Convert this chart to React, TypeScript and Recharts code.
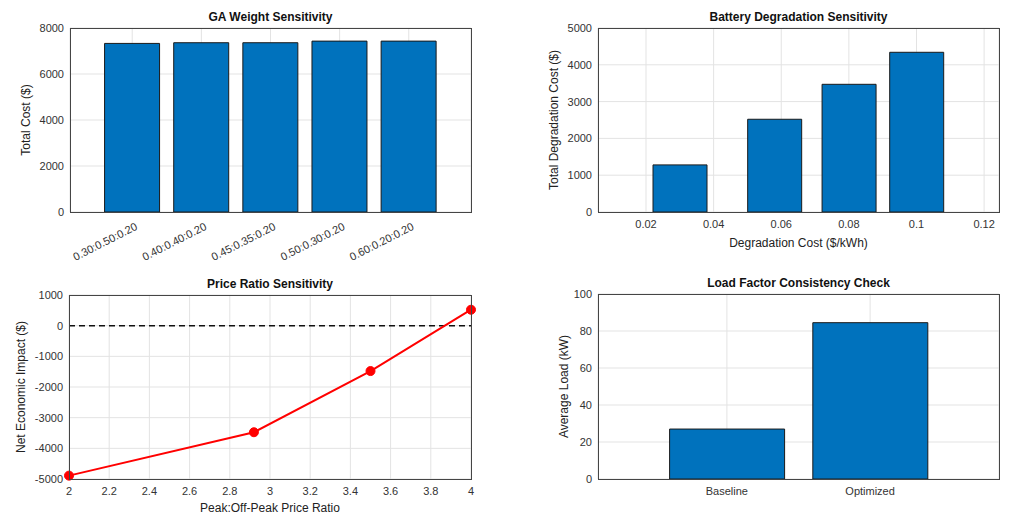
import React from "react"
import {
  Bar, BarChart, CartesianGrid, Label, Line, LineChart, ReferenceLine, XAxis, YAxis,
} from "recharts"

// GA weight sensitivity
const gaWeights = ["0.30:0.50:0.20", "0.40:0.40:0.20", "0.45:0.35:0.20", "0.50:0.30:0.20", "0.60:0.20:0.20"]
const gaTotalCost = [7330, 7360, 7360, 7430, 7430]
const gaTicks = [0, 2000, 4000, 6000, 8000]

// battery degradation sensitivity
const degRate = [0.03, 0.058, 0.08, 0.1]
const degTotalCost = [1280, 2520, 3470, 4340]
const degXTicks = [0.02, 0.04, 0.06, 0.08, 0.1, 0.12]
const degYTicks = [0, 1000, 2000, 3000, 4000, 5000]

// price ratio sensitivity
const priceRatio = [2, 2.92, 3.5, 4]
const netImpact = [-4890, -3475, -1480, 520]
const ratioTicks = [2, 2.2, 2.4, 2.6, 2.8, 3, 3.2, 3.4, 3.6, 3.8, 4]
const impactTicks = [-5000, -4000, -3000, -2000, -1000, 0, 1000]

// load factor check
const loadCases = ["Baseline", "Optimized"]
const avgLoad = [27, 84.5]
const loadTicks = [0, 20, 40, 60, 80, 100]

const gaData = gaWeights.map((w, i) => ({ w, cost: gaTotalCost[i] }))
const degData = degRate.map((r, i) => ({ r, cost: degTotalCost[i] }))
const priceData = priceRatio.map((p, i) => ({ p, v: netImpact[i] }))
const loadData = loadCases.map((c, i) => ({ c, v: avgLoad[i] }))

const FONT = '"Liberation Sans", Arial, sans-serif'
const BLUE = "#0072BD"
const GRID = "#e3e3e3"
const TXT = "#333"
const YW = 45

type Box = { left: number; top: number; w: number; h: number }
type Plot = { left: number; top: number; width: number; height: number }

const marginFor = (box: Box, plot: Plot, xh: number) => ({
  top: plot.top,
  left: plot.left - YW,
  right: box.w - plot.left - plot.width,
  bottom: box.h - plot.top - plot.height - xh,
})

const Title = ({ box, plot, text }: { box: Box; plot: Plot; text: string }) => (
  <div style={{
    position: "absolute", left: box.left + plot.left, top: box.top + plot.top - 18, width: plot.width,
    textAlign: "center", fontSize: 12, lineHeight: "14px", fontWeight: "bold", color: "#111", fontFamily: FONT,
  }}>{text}</div>
)

const Frame = ({ box, plot }: { box: Box; plot: Plot }) => (
  <div style={{
    position: "absolute", left: box.left + plot.left, top: box.top + plot.top, width: plot.width + 1,
    height: plot.height + 1, border: "1px solid #454545", boxSizing: "border-box", pointerEvents: "none",
  }} />
)

const RotTick = (props: any) => {
  const { x, y, payload } = props
  const ax = x + 6
  const ay = y + 9
  return (
    <text x={ax} y={ay} transform={`rotate(-27, ${ax}, ${ay})`} textAnchor="end" fontSize={11} fill={TXT} fontFamily={FONT}>
      {payload.value}
    </text>
  )
}

const tickStyle = { fill: TXT, fontSize: 11, fontFamily: FONT }
const labelStyle = { fill: "#222", fontSize: 12, fontFamily: FONT }

// top-left svg is taller so the slanted labels are not clipped
const b1: Box = { left: 0, top: 0, w: 500, h: 275 }
const p1: Plot = { left: 70, top: 28, width: 401, height: 184 }
const b2: Box = { left: 500, top: 0, w: 513, h: 260 }
const p2: Plot = { left: 98, top: 28, width: 401, height: 184 }
const b3: Box = { left: 0, top: 260, w: 500, h: 259 }
const p3: Plot = { left: 69, top: 35, width: 402, height: 184 }
const b4: Box = { left: 500, top: 260, w: 513, h: 259 }
const p4: Plot = { left: 98, top: 34, width: 401, height: 185 }

const at = (b: Box) => ({ position: "absolute" as const, left: b.left, top: b.top })

export default function App() {
  const band1 = p1.width / 5.8
  const band4 = p4.width / 2.8
  return (
    <div style={{ position: "absolute", left: 0, top: 0, width: 1013, height: 519, background: "#fff", fontFamily: FONT, overflow: "hidden" }}>
      <div style={at(b3)}>
        <LineChart width={b3.w} height={b3.h} data={priceData} margin={marginFor(b3, p3, 32)}>
          <CartesianGrid stroke={GRID} />
          <XAxis dataKey="p" type="number" domain={[2, 4]} ticks={ratioTicks} height={32}
            axisLine={false} tickLine={false} tick={tickStyle}>
            <Label value="Peak:Off-Peak Price Ratio" position="center" dy={13} style={labelStyle} />
          </XAxis>
          <YAxis width={YW} domain={[-5000, 1000]} ticks={impactTicks} axisLine={false} tickLine={false}
            tick={tickStyle} tickMargin={0}>
            <Label value="Net Economic Impact ($)" angle={-90} position="center" dx={-26} style={labelStyle} />
          </YAxis>
          <ReferenceLine y={0} stroke="#111" strokeWidth={1.5} strokeDasharray="6 4" />
          <Line dataKey="v" stroke="#ff0000" strokeWidth={2} isAnimationActive={false}
            dot={{ r: 4.5, fill: "#ff0000", stroke: "#ff0000", strokeWidth: 1 }} />
        </LineChart>
      </div>

      <div style={at(b4)}>
        <BarChart width={b4.w} height={b4.h} data={loadData} margin={marginFor(b4, p4, 32)} barCategoryGap="10%">
          <CartesianGrid stroke={GRID} />
          <XAxis dataKey="c" height={32} axisLine={false} tickLine={false} interval={0}
            padding={{ left: band4 * 0.4, right: band4 * 0.4 }} tick={tickStyle} />
          <YAxis width={YW} domain={[0, 100]} ticks={loadTicks} axisLine={false} tickLine={false}
            tick={tickStyle} tickMargin={0}>
            <Label value="Average Load (kW)" angle={-90} position="center" dx={-12} style={labelStyle} />
          </YAxis>
          <Bar dataKey="v" fill={BLUE} stroke="#1a1a1a" strokeWidth={1} isAnimationActive={false} />
        </BarChart>
      </div>

      <div style={at(b2)}>
        <BarChart width={b2.w} height={b2.h} data={degData} margin={marginFor(b2, p2, 40)}>
          <CartesianGrid stroke={GRID} />
          <XAxis dataKey="r" type="number" domain={[0.0058, 0.1244]} ticks={degXTicks} allowDataOverflow
            height={40} axisLine={false} tickLine={false} tick={tickStyle}>
            <Label value="Degradation Cost ($/kWh)" position="center" dy={11} style={labelStyle} />
          </XAxis>
          <YAxis width={YW} domain={[0, 5000]} ticks={degYTicks} axisLine={false} tickLine={false}
            tick={tickStyle} tickMargin={0}>
            <Label value="Total Degradation Cost ($)" angle={-90} position="center" dx={-22} style={labelStyle} />
          </YAxis>
          <Bar dataKey="cost" barSize={54} fill={BLUE} stroke="#1a1a1a" strokeWidth={1} isAnimationActive={false} />
        </BarChart>
      </div>

      <div style={at(b1)}>
        <BarChart width={b1.w} height={b1.h} data={gaData} margin={marginFor(b1, p1, 40)} barCategoryGap="10%">
          <CartesianGrid stroke={GRID} />
          <XAxis dataKey="w" height={40} axisLine={false} tickLine={false} interval={0}
            padding={{ left: band1 * 0.4, right: band1 * 0.4 }} tick={<RotTick />} />
          <YAxis width={YW} domain={[0, 8000]} ticks={gaTicks} axisLine={false} tickLine={false}
            tick={tickStyle} tickMargin={0}>
            <Label value="Total Cost ($)" angle={-90} position="center" dx={-22} style={labelStyle} />
          </YAxis>
          <Bar dataKey="cost" fill={BLUE} stroke="#1a1a1a" strokeWidth={1} isAnimationActive={false} />
        </BarChart>
      </div>

      <Frame box={b1} plot={p1} />
      <Frame box={b2} plot={p2} />
      <Frame box={b3} plot={p3} />
      <Frame box={b4} plot={p4} />
      <Title box={b1} plot={p1} text="GA Weight Sensitivity" />
      <Title box={b2} plot={p2} text="Battery Degradation Sensitivity" />
      <Title box={b3} plot={p3} text="Price Ratio Sensitivity" />
      <Title box={b4} plot={p4} text="Load Factor Consistency Check" />
    </div>
  )
}
